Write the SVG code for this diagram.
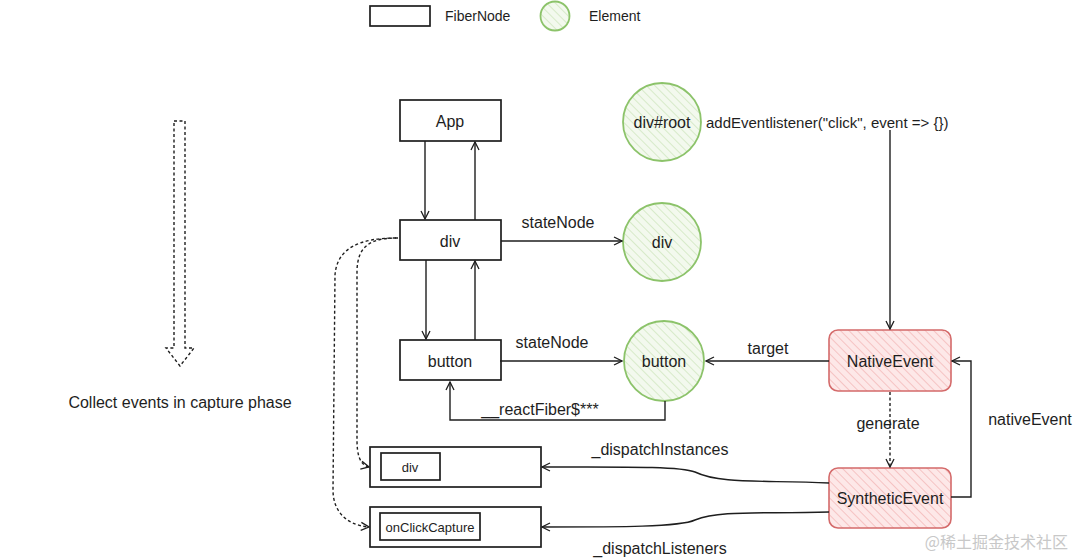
<svg xmlns="http://www.w3.org/2000/svg" width="1075" height="558" viewBox="0 0 1075 558">
<defs>
<pattern id="hg" width="6" height="6" patternUnits="userSpaceOnUse" patternTransform="rotate(-45)">
<rect width="6" height="6" fill="#f3f9ee"/>
<line x1="0" y1="0" x2="0" y2="6" stroke="#c5e0b0" stroke-width="1.2"/>
</pattern>
<pattern id="hr" width="6" height="6" patternUnits="userSpaceOnUse" patternTransform="rotate(-45)">
<rect width="6" height="6" fill="#fde8e8"/>
<line x1="0" y1="0" x2="0" y2="6" stroke="#f2b4b4" stroke-width="1.4"/>
</pattern>
<marker id="ah" viewBox="0 0 10 10" refX="9" refY="5" markerWidth="10" markerHeight="10" orient="auto" markerUnits="userSpaceOnUse">
<path d="M1,1 L9,5 L1,9" fill="none" stroke="#1e1e1e" stroke-width="1.3"/>
</marker>
</defs>
<style>
text{font-family:"Comic Sans MS","Liberation Sans",sans-serif;fill:#1e1e1e;}
.t{font-size:16px;text-anchor:middle;dominant-baseline:central;}
.l{font-size:16px;dominant-baseline:central;}
.s{font-size:14px;}
.fib{fill:#fff;stroke:#1e1e1e;stroke-width:1.7;}
.el{fill:url(#hg);stroke:#8cc36a;stroke-width:1.8;}
.ev{fill:url(#hr);stroke:#d46a6a;stroke-width:1.6;}
.c{fill:none;stroke:#1e1e1e;stroke-width:1.4;marker-end:url(#ah);}
.d{fill:none;stroke:#1e1e1e;stroke-width:1.4;stroke-dasharray:3 2.5;}
</style>
<rect width="1075" height="558" fill="#fff"/>

<g id="legend">
<rect x="370" y="6" width="60" height="20" class="fib"/>
<text x="445" y="16" class="l s">FiberNode</text>
<circle cx="555" cy="16" r="14.5" class="el"/>
<text x="589" y="16" class="l s">Element</text>
</g>

<g id="capture-arrow">
<path d="M174,121 L185,121 L185,348 L194,348 L180,366 L166,348 L174,348 Z" class="d" stroke-width="1.3"/>
<text x="180" y="402" class="t">Collect events in capture phase</text>
</g>

<g id="app"><rect x="400" y="100" width="101" height="41" class="fib"/><text x="450" y="121" class="t">App</text></g>
<g id="div-fiber"><rect x="400" y="220" width="101" height="40" class="fib"/><text x="450" y="241" class="t">div</text></g>
<g id="button-fiber"><rect x="400" y="340" width="101" height="40" class="fib"/><text x="450" y="361" class="t">button</text></g>

<g id="root-el"><circle cx="662" cy="122" r="39" class="el"/><text x="662" y="122" class="t">div#root</text></g>
<text id="listener" x="706" y="122" class="l" style="font-size:15px">addEventlistener("click", event =&gt; {})</text>
<g id="div-el"><circle cx="662" cy="242" r="39" class="el"/><text x="662" y="242" class="t">div</text></g>
<g id="button-el"><circle cx="664" cy="361" r="40" class="el"/><text x="664" y="361" class="t">button</text></g>

<g id="native"><rect x="829" y="330" width="122" height="61" rx="9" class="ev"/><text x="890" y="361" class="t">NativeEvent</text></g>
<g id="synthetic"><rect x="829" y="468" width="122" height="60" rx="9" class="ev"/><text x="890" y="498" class="t">SyntheticEvent</text></g>

<g id="instances">
<rect x="370" y="447" width="171" height="40" class="fib"/>
<rect x="381" y="453" width="59" height="27" class="fib" stroke-width="1.4"/>
<text x="410" y="467" class="t" style="font-size:13px">div</text>
</g>
<g id="listeners">
<rect x="370" y="507" width="171" height="40" class="fib"/>
<rect x="380" y="513" width="100" height="27" class="fib" stroke-width="1.4"/>
<text x="430" y="527" class="t" style="font-size:13px">onClickCapture</text>
</g>

<g id="connectors">
<path d="M425,141 L425,219" class="c"/>
<path d="M475,220 L475,142" class="c"/>
<path d="M426,260 L426,339" class="c"/>
<path d="M475,340 L475,261" class="c"/>
<path d="M501,241 L622,241" class="c"/>
<path d="M500,361 L622,361" class="c"/>
<path d="M665,401 L665,420 L450,420 L450,382" class="c"/>
<path d="M890,130 L890,329" class="c"/>
<path d="M829,361 L706,361" class="c"/>
<path d="M890,392 L890,467" class="d" marker-end="url(#ah)"/>
<path d="M951,497 L971,497 L971,361 L952,361" class="c"/>
<path d="M829,483 C760,480 720,484 695,472 C680,466 620,467 542,467" class="c"/>
<path d="M829,512 C760,514 720,510 695,520 C680,527 620,527 542,527" class="c"/>
<path d="M398,238 C370,238 358,246 357,270 L357,440 C357,455 360,465 369,467" class="d" marker-end="url(#ah)"/>
<path d="M396,238 C360,238 337,248 335,275 L333,490 C333,510 345,525 369,527" class="d" marker-end="url(#ah)"/>
<text x="558" y="222" class="t">stateNode</text>
<text x="552" y="342" class="t">stateNode</text>
<text x="540" y="409" class="t">__reactFiber$***</text>
<text x="768" y="348" class="t">target</text>
<text x="888" y="423" class="t">generate</text>
<text x="1030" y="419" class="t">nativeEvent</text>
<text x="660" y="449" class="t">_dispatchInstances</text>
<text x="660" y="548" class="t">_dispatchListeners</text>
</g>

<text x="1068" y="541" style="font-family:'Noto Sans CJK SC',sans-serif;font-size:16px;fill:#c8c8c8;text-anchor:end;dominant-baseline:central">@稀土掘金技术社区</text>
</svg>
